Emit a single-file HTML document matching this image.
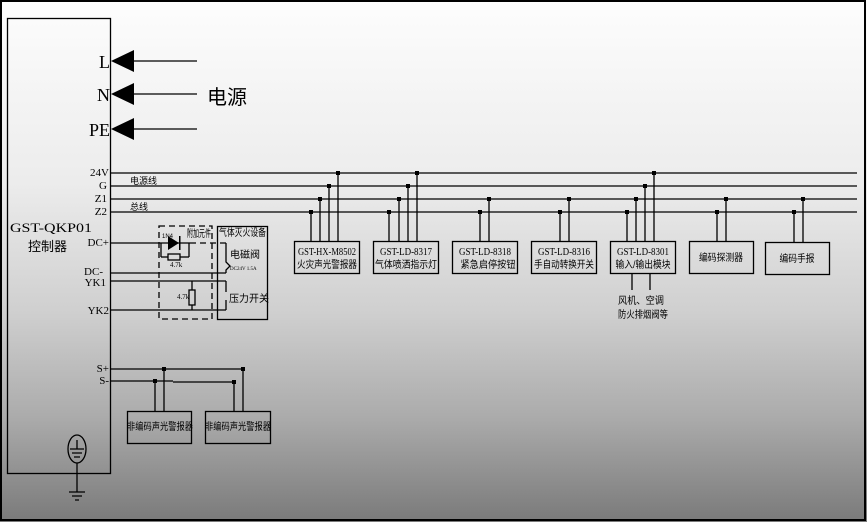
<!DOCTYPE html>
<html><head><meta charset="utf-8"><style>
html,body{margin:0;padding:0}
body{width:867px;height:522px;overflow:hidden}
svg{display:block}
text{font-family:"Liberation Serif","Noto Sans CJK SC",serif;fill:#000}
.c{font-family:"Liberation Sans","Noto Sans CJK SC",sans-serif}
</style></head><body>
<svg width="867" height="522" viewBox="0 0 867 522" xmlns="http://www.w3.org/2000/svg">
<defs><linearGradient id="g" x1="0" y1="0" x2="0" y2="1">
<stop offset="0" stop-color="#fdfdfd"/><stop offset="0.35" stop-color="#ececec"/><stop offset="0.6" stop-color="#cfcfcf"/><stop offset="0.8" stop-color="#ababab"/><stop offset="1" stop-color="#7a7a7a"/></linearGradient></defs>
<rect x="0" y="0" width="867" height="522" fill="url(#g)"/>
<rect x="1" y="1" width="864" height="519" fill="none" stroke="#000" stroke-width="2"/>
<g stroke="#000" stroke-width="1.3" fill="none">
<rect x="7.5" y="18.5" width="103" height="455"/>
<!-- power arrows -->
<line x1="134" y1="61" x2="197" y2="61"/><line x1="134" y1="94" x2="197" y2="94"/><line x1="134" y1="129" x2="197" y2="129"/>
<!-- buses -->
<line x1="110" y1="173" x2="857" y2="173"/><line x1="110" y1="186" x2="857" y2="186"/>
<line x1="110" y1="199" x2="857" y2="199"/><line x1="110" y1="212" x2="857" y2="212"/>
<!-- dc lines -->
<line x1="110" y1="243" x2="190" y2="243"/><line x1="190" y1="243" x2="226" y2="243" stroke-dasharray="6,4"/>
<line x1="161" y1="243" x2="161" y2="257"/><line x1="189" y1="243" x2="189" y2="257"/>
<line x1="161" y1="257" x2="168" y2="257"/><line x1="180" y1="257" x2="189" y2="257"/>
<rect x="168" y="254" width="12" height="6"/>
<path d="M226 243 L226 262 L230 266 L226 270 L226 273"/>
<line x1="110" y1="273" x2="226" y2="273"/>
<line x1="110" y1="281" x2="226" y2="281"/><line x1="226" y1="281" x2="226" y2="292"/>
<line x1="110" y1="310" x2="226" y2="310"/><line x1="226" y1="310" x2="226" y2="300"/>
<line x1="192" y1="281" x2="192" y2="290"/><line x1="192" y1="305" x2="192" y2="310"/>
<rect x="189" y="290" width="6" height="15"/>
<rect x="159" y="226" width="53" height="93" stroke-dasharray="6,4"/>
<rect x="217.5" y="226.5" width="50" height="93"/>
<!-- device boxes -->
<rect x="294.5" y="241.5" width="65" height="32"/>
<rect x="373.5" y="241.5" width="65" height="32"/>
<rect x="452.5" y="241.5" width="65" height="32"/>
<rect x="531.5" y="241.5" width="65" height="32"/>
<rect x="610.5" y="241.5" width="65" height="32"/>
<rect x="689.5" y="241.5" width="64" height="32"/>
<rect x="765.5" y="242.5" width="64" height="32"/>
<!-- taps -->
<path d="M311 212V241M320 199V241M329 186V241M338 173V241"/>
<path d="M389 212V241M399 199V241M408 186V241M417 173V241"/>
<path d="M480 212V241M489 199V241"/>
<path d="M560 212V241M569 199V241"/>
<path d="M627 212V241M636 199V241M645 186V241M654 173V241"/>
<path d="M717 212V241M726 199V241"/>
<path d="M794 212V242M803 199V242"/>
<path d="M632 273V290M650 273V290"/>
<!-- S lines -->
<line x1="110" y1="369" x2="243" y2="369"/>
<line x1="110" y1="381" x2="173" y2="381"/><line x1="173" y1="382" x2="234" y2="382"/>
<path d="M155 381V411M164 369V411M234 382V411M243 369V411"/>
<rect x="127.5" y="411.5" width="64" height="32"/>
<rect x="205.5" y="411.5" width="65" height="32"/>
<!-- ground -->
<ellipse cx="77" cy="449" rx="9" ry="14"/>
<path d="M77 440V449M70 449H84M72 453H82M74 457H80"/>
<path d="M77 463V492M69 492H85M72 496H82M75 500H79"/>
</g>
<g fill="#000">
<polygon points="111,61 134,50 134,72"/><polygon points="111,94 134,83 134,105"/><polygon points="111,129 134,118 134,140"/>
<polygon points="168,236 168,250 179,243"/><rect x="179" y="236" width="1.5" height="14"/>
<g>
<rect x="309" y="210" width="4" height="4"/><rect x="318" y="197" width="4" height="4"/><rect x="327" y="184" width="4" height="4"/><rect x="336" y="171" width="4" height="4"/>
<rect x="387" y="210" width="4" height="4"/><rect x="397" y="197" width="4" height="4"/><rect x="406" y="184" width="4" height="4"/><rect x="415" y="171" width="4" height="4"/>
<rect x="478" y="210" width="4" height="4"/><rect x="487" y="197" width="4" height="4"/>
<rect x="558" y="210" width="4" height="4"/><rect x="567" y="197" width="4" height="4"/>
<rect x="625" y="210" width="4" height="4"/><rect x="634" y="197" width="4" height="4"/><rect x="643" y="184" width="4" height="4"/><rect x="652" y="171" width="4" height="4"/>
<rect x="715" y="210" width="4" height="4"/><rect x="724" y="197" width="4" height="4"/>
<rect x="792" y="210" width="4" height="4"/><rect x="801" y="197" width="4" height="4"/>
<rect x="153" y="379" width="4" height="4"/><rect x="162" y="367" width="4" height="4"/>
<rect x="232" y="380" width="4" height="4"/><rect x="241" y="367" width="4" height="4"/>
</g>
</g>
<!-- labels -->
<g font-size="18" text-anchor="end">
<text x="110" y="68">L</text><text x="110" y="101">N</text><text x="110" y="136">PE</text>
</g>
<text x="207" y="104" font-size="20" class="c">电源</text>
<g font-size="11" text-anchor="end">
<text x="109" y="176">24V</text><text x="107" y="189">G</text><text x="107" y="202">Z1</text><text x="107" y="215">Z2</text>
<text x="109" y="246">DC+</text><text x="103" y="275">DC-</text><text x="106" y="286">YK1</text><text x="109" y="314">YK2</text>
<text x="109" y="372">S+</text><text x="109" y="384">S-</text>
</g>
<text x="10" y="232" font-size="13" textLength="82" lengthAdjust="spacingAndGlyphs">GST-QKP01</text>
<text x="28" y="251" font-size="13" class="c">控制器</text>
<text x="130" y="184" font-size="9" class="c">电源线</text>
<text x="130" y="210" font-size="9" class="c">总线</text>
<text x="162" y="238" font-size="6" class="c">1N4</text>
<text x="187" y="237" font-size="10" class="c" textLength="24" lengthAdjust="spacingAndGlyphs">附加元件</text>
<text x="170" y="267" font-size="7">4.7k</text>
<text x="177" y="299" font-size="7">4.7k</text>
<text x="219" y="236" font-size="10" class="c" textLength="47" lengthAdjust="spacingAndGlyphs">气体灭火设备</text>
<text x="230" y="258" font-size="10" class="c">电磁阀</text>
<text x="230" y="270" font-size="5" fill="#555">DC24V 1.5A</text>
<text x="229" y="302" font-size="10" class="c">压力开关</text>
<g font-size="11" text-anchor="middle">
<text x="327" y="255" textLength="58" lengthAdjust="spacingAndGlyphs">GST-HX-M8502</text>
<text x="406" y="255" textLength="52" lengthAdjust="spacingAndGlyphs">GST-LD-8317</text>
<text x="485" y="255" textLength="52" lengthAdjust="spacingAndGlyphs">GST-LD-8318</text>
<text x="564" y="255" textLength="52" lengthAdjust="spacingAndGlyphs">GST-LD-8316</text>
<text x="643" y="255" textLength="52" lengthAdjust="spacingAndGlyphs">GST-LD-8301</text>
</g>
<g font-size="10" text-anchor="middle" class="c">
<text x="327" y="268" class="c" textLength="60" lengthAdjust="spacingAndGlyphs">火灾声光警报器</text>
<text x="406" y="268" class="c" textLength="62" lengthAdjust="spacingAndGlyphs">气体喷洒指示灯</text>
<text x="488" y="268" class="c" textLength="55" lengthAdjust="spacingAndGlyphs">紧急启停按钮</text>
<text x="564" y="268" class="c" textLength="60" lengthAdjust="spacingAndGlyphs">手自动转换开关</text>
<text x="643" y="268" class="c" textLength="55" lengthAdjust="spacingAndGlyphs">输入/输出模块</text>
<text x="721" y="261" class="c" textLength="44" lengthAdjust="spacingAndGlyphs">编码探测器</text>
<text x="797" y="262" class="c" textLength="35" lengthAdjust="spacingAndGlyphs">编码手报</text>
<text x="641" y="304" class="c" textLength="46" lengthAdjust="spacingAndGlyphs">风机、空调</text>
<text x="643" y="318" class="c" textLength="50" lengthAdjust="spacingAndGlyphs">防火排烟阀等</text>
<text x="160" y="430" class="c" textLength="66" lengthAdjust="spacingAndGlyphs">非编码声光警报器</text>
<text x="238" y="430" class="c" textLength="66" lengthAdjust="spacingAndGlyphs">非编码声光警报器</text>
</g>
</svg>
</body></html>
